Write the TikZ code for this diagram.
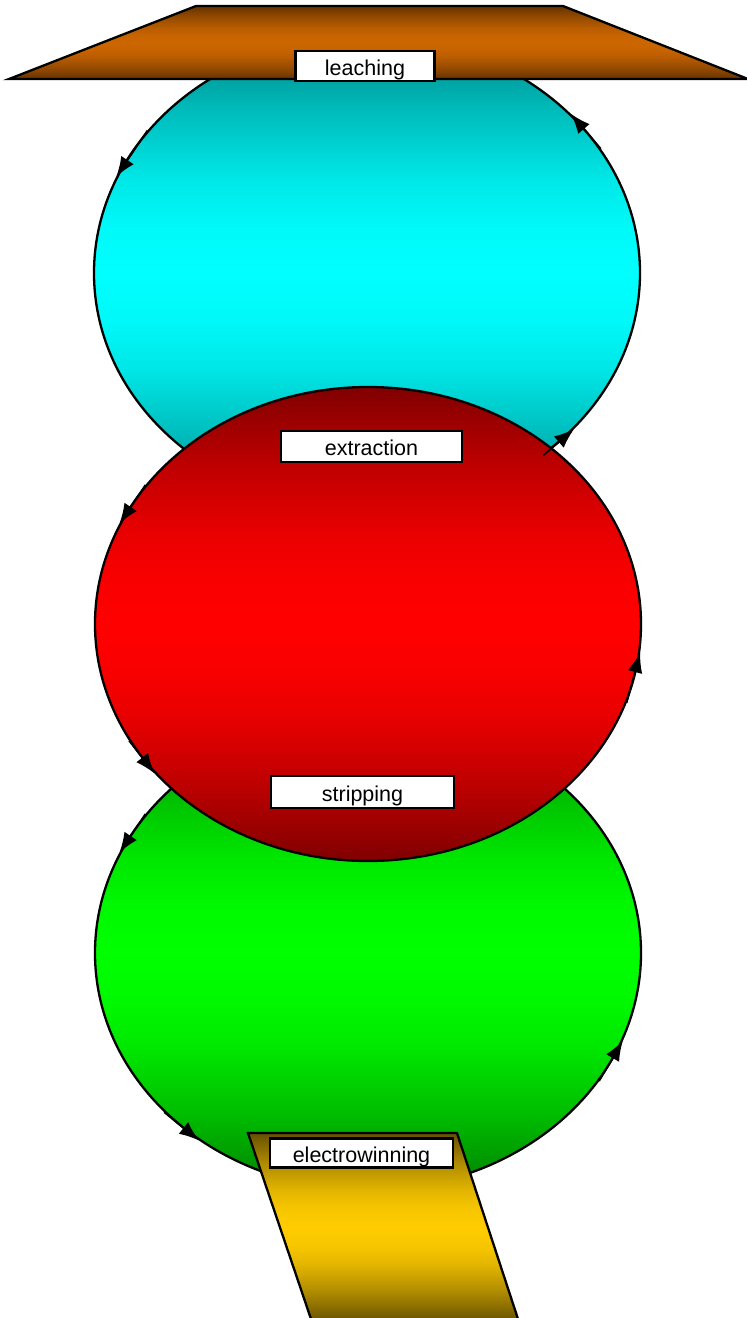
\documentclass[tikz,border=0pt]{standalone}
\usepackage{fontspec}
\setmainfont{Liberation Sans}
\usetikzlibrary{arrows.meta,shapes.geometric}
\definecolor{cyDark}{RGB}{0,128,128}
\definecolor{cyLight}{RGB}{0,255,255}
\definecolor{rdDark}{RGB}{128,0,0}
\definecolor{rdLight}{RGB}{255,0,0}
\definecolor{gnDark}{RGB}{0,128,0}
\definecolor{gnLight}{RGB}{0,255,0}
\definecolor{brDark}{RGB}{102,51,0}
\definecolor{brLight}{RGB}{204,102,0}
\definecolor{ylDark}{RGB}{102,80,0}
\definecolor{ylLight}{RGB}{255,204,0}
\newcommand{\mkbandshade}[3]{%
  \pgfdeclareverticalshading{#1}{100bp}{%
    color(0bp)=(#2); color(25bp)=(#2);
    color(32.5bp)=(#3!45!#2); color(40bp)=(#3!81!#2);
    color(45bp)=(#3!95!#2); color(50bp)=(#3);
    color(55bp)=(#3!95!#2); color(60bp)=(#3!81!#2);
    color(67.5bp)=(#3!45!#2); color(75bp)=(#2); color(100bp)=(#2)}}
\mkbandshade{shCy}{cyDark}{cyLight}
\mkbandshade{shRd}{rdDark}{rdLight}
\mkbandshade{shGn}{gnDark}{gnLight}
\mkbandshade{shBr}{brDark}{brLight}
\mkbandshade{shYl}{ylDark}{ylLight}
\tikzset{
  stage/.style={ellipse, draw=black, line width=2.3pt, inner sep=0pt,
    minimum width=546pt, minimum height=474pt},
  lbl/.style={draw=black, fill=white, line width=2.3pt, inner sep=0pt,
    text height=18pt, text depth=0pt,
    font=\fontsize{21.5}{24}\selectfont},
  flow/.style={line width=1.7pt, -{Latex[length=20pt,width=15pt]}},
  outline/.style={draw=black, line width=2.3pt, line join=miter}
}
\begin{document}
\begin{tikzpicture}[x=1pt,y=-1pt]
\useasboundingbox (0,0) rectangle (747,1318);
% ellipses
\node[stage, shading=shCy] (leach) at (367,273) {};
\node[stage, shading=shGn] (strip) at (368,953) {};
\node[stage, shading=shRd] (extr) at (368,624) {};
% trapezoid
\coordinate (t1) at (196,6);
\coordinate (t2) at (563,6);
\coordinate (t3) at (748,79);
\coordinate (t4) at (9,79);
\path[outline, shading=shBr] (t1) -- (t2) -- (t3) -- (t4) -- cycle;
% parallelogram
\coordinate (p1) at (248,1133);
\coordinate (p2) at (457,1133);
\coordinate (p3) at (519,1322);
\coordinate (p4) at (312,1322);
\path[outline, shading=shYl] (p1) -- (p2) -- (p3) -- (p4) -- cycle;
% arrows along borders
\draw[flow] (leach.147) -- (leach.159);
\draw[flow] (leach.28) -- (leach.38);
\draw[flow] (leach.-46) -- (leach.-37);
\draw[flow] (extr.148) -- (extr.158);
\draw[flow] (extr.-17) -- (extr.-6);
\draw[flow] (extr.206) -- (extr.215);
\draw[flow] (strip.148) -- (strip.158);
\draw[flow] (strip.-29) -- (strip.-19);
\draw[flow] (strip.218) -- (strip.228);
% labels
\node[lbl, minimum width=139pt, minimum height=30pt] (leachL) at (365,66) {leaching};
\node[lbl, minimum width=181pt, minimum height=31pt] (extrL) at (371.5,446.5) {extraction};
\node[lbl, minimum width=183pt, minimum height=32pt] (stripL) at (362.5,792) {stripping};
\node[lbl, minimum width=183pt, minimum height=29pt] (ewL) at (361.5,1153) {electrowinning};
\end{tikzpicture}
\end{document}
